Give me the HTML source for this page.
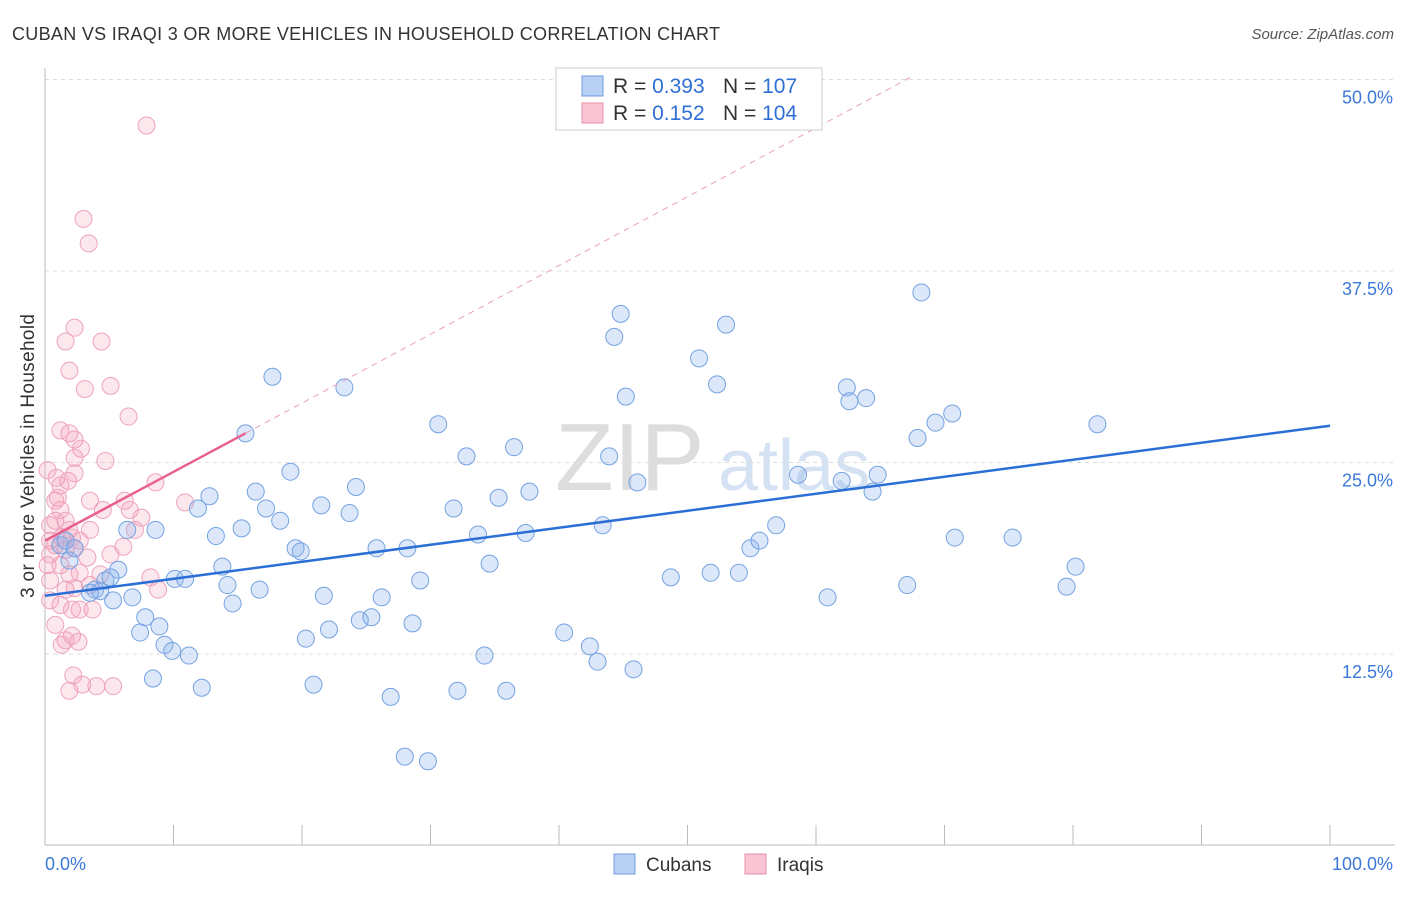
<!DOCTYPE html>
<html><head><meta charset="utf-8"><style>
body{margin:0;background:#fff;font-family:"Liberation Sans",sans-serif;}
svg text{font-family:"Liberation Sans",sans-serif;}
</style></head><body>
<svg id="chart" width="1406" height="892" viewBox="0 0 1406 892">
<text x="12" y="40" font-size="18" fill="#333" textLength="708">CUBAN VS IRAQI 3 OR MORE VEHICLES IN HOUSEHOLD CORRELATION CHART</text>
<text x="1394" y="39" font-size="15" fill="#555" font-style="italic" text-anchor="end">Source: ZipAtlas.com</text>
<text x="0" y="0" transform="translate(34,456) rotate(-90)" font-size="19" fill="#333" text-anchor="middle" textLength="284">3 or more Vehicles in Household</text>
<text x="555" y="490" font-size="96" fill="#ddd" font-family="Liberation Serif">ZIP</text>
<text x="718" y="490" font-size="72" fill="#d4e2f4">atlas</text>
<g id="grid"></g><g id="axes"></g><g id="pts"></g><g id="trends"></g>
<g>
<rect x="556" y="68" width="266" height="62" fill="#fff" stroke="#ccc"/>
<rect x="582" y="76" width="21" height="20" fill="#b8d0f4" stroke="#6b9ce0"/>
<rect x="582" y="103" width="21" height="20" fill="#f9c5d4" stroke="#ea8fab"/>
<text x="613" y="93" font-size="21" fill="#333">R = <tspan fill="#2f6fd6">0.393</tspan></text>
<text x="723" y="93" font-size="21" fill="#333">N = <tspan fill="#2f6fd6">107</tspan></text>
<text x="613" y="120" font-size="21" fill="#333">R =  <tspan fill="#2f6fd6">0.152</tspan></text>
<text x="723" y="120" font-size="21" fill="#333">N = <tspan fill="#2f6fd6">104</tspan></text>
</g>
<g>
<rect x="614" y="854" width="21" height="20" fill="#b8d0f4" stroke="#6b9ce0"/>
<text x="646" y="871" font-size="19" fill="#333">Cubans</text>
<rect x="745" y="854" width="21" height="20" fill="#f9c5d4" stroke="#ea8fab"/>
<text x="777" y="871" font-size="19" fill="#333">Iraqis</text>
</g>
</svg>
<script>
const yTicks=[12.5,25,37.5,50];
const yTickLabels=["12.5%","25.0%","37.5%","50.0%"];
const xTicks=[0,10,20,30,40,50,60,70,80,90,100];
const cubanX=[15.6,17.7,23.3,30.6,32.8,36.5,44.8,44.3,45.2,50.9,52.3,53.0,68.2,62.4,62.6,63.9,70.6,69.3,67.9,81.9,43.9,46.1,37.7,35.3,31.8,24.2,23.7,21.5,19.1,16.4,17.2,18.3,12.8,11.9,13.3,15.3,8.6,6.4,4.7,5.7,3.9,4.3,5.3,6.8,7.8,8.9,9.3,9.9,11.2,7.4,10.1,10.9,13.8,14.2,14.6,16.7,19.5,19.9,21.7,20.3,22.1,24.5,25.4,26.2,25.8,28.2,29.2,28.6,33.7,34.6,37.4,43.4,48.7,51.8,54.0,54.9,55.6,56.9,58.6,62.0,64.4,64.8,60.9,67.1,70.8,75.3,80.2,79.5,40.4,42.4,43.0,45.8,34.2,32.1,35.9,26.9,28.0,29.8,20.9,12.2,8.4,5.1,3.5,1.9,1.2,1.6,2.3];
const cubanY=[26.9,30.6,29.9,27.5,25.4,26.0,34.7,33.2,29.3,31.8,30.1,34.0,36.1,29.9,29.0,29.2,28.2,27.6,26.6,27.5,25.4,23.7,23.1,22.7,22.0,23.4,21.7,22.2,24.4,23.1,22.0,21.2,22.8,22.0,20.2,20.7,20.6,20.6,17.3,18.0,16.7,16.6,16.0,16.2,14.9,14.3,13.1,12.7,12.4,13.9,17.4,17.4,18.2,17.0,15.8,16.7,19.4,19.2,16.3,13.5,14.1,14.7,14.9,16.2,19.4,19.4,17.3,14.5,20.3,18.4,20.4,20.9,17.5,17.8,17.8,19.4,19.9,20.9,24.2,23.8,23.1,24.2,16.2,17.0,20.1,20.1,18.2,16.9,13.9,13.0,12.0,11.5,12.4,10.1,10.1,9.7,5.8,5.5,10.5,10.3,10.9,17.5,16.5,18.6,19.6,19.9,19.4];
const iraqiX=[7.9,3.0,3.4,2.3,1.6,4.4,1.9,3.1,5.1,6.5,1.2,1.9,2.3,2.8,4.7,2.3,2.3,1.8,1.2,0.9,3.5,4.5,6.6,0.8,1.2,1.6,0.4,1.9,3.5,7.0,1.3,2.1,2.7,0.8,1.6,2.3,6.1,0.4,3.3,5.1,1.2,1.9,2.7,4.3,0.4,1.6,2.3,3.5,8.2,8.8,0.4,1.2,2.1,3.7,2.7,0.8,1.6,2.1,2.6,1.3,2.2,1.9,2.9,4.0,5.3,10.9,8.6,6.2,7.5,0.2,0.4,0.8,1.0,0.2];
const iraqiY=[47.0,40.9,39.3,33.8,32.9,32.9,31.0,29.8,30.0,28.0,27.1,26.9,26.5,25.9,25.1,25.3,24.3,23.8,23.5,24.0,22.5,21.9,21.9,22.5,21.9,21.2,20.9,20.6,20.6,20.6,20.1,20.1,19.9,19.6,19.3,19.4,19.5,19.0,18.8,19.0,18.3,17.7,17.8,17.7,17.3,16.7,16.8,17.0,17.5,16.7,16.0,15.7,15.4,15.4,15.4,14.4,13.4,13.7,13.3,13.1,11.1,10.1,10.5,10.4,10.4,22.4,23.7,22.5,21.4,18.3,19.9,21.2,22.7,24.5];
const cubanTrend=[16.3,27.4];
const iraqiTrend=[19.9,0.449];
const iraqiMaxX=15.6;

const NS="http://www.w3.org/2000/svg";
const X=v=>45+v*12.85, Y=v=>845.5-v*15.32;
function mk(parent,tag,attrs){const e=document.createElementNS(NS,tag);for(const k in attrs)e.setAttribute(k,attrs[k]);document.getElementById(parent).appendChild(e);return e;}
yTicks.forEach((t,i)=>{
 const l=mk('grid','line',{x1:45,x2:1395,y1:Y(t),y2:Y(t),stroke:'#ddd','stroke-dasharray':'4,4'});
 
 
 const tx=mk('grid','text',{x:1393,y:Y(t)+24,'font-size':18,fill:'#3b78d8','text-anchor':'end'});tx.textContent=yTickLabels[i];
 
 
});
let a=mk('axes','line',{x1:45,x2:45,y1:68,y2:845,stroke:'#bbb'});


a=mk('axes','line',{x1:45,x2:1395,y1:845,y2:845,stroke:'#bbb'});


xTicks.forEach(t=>{const l=mk('axes','line',{x1:X(t),x2:X(t),y1:825,y2:845,stroke:'#bbb'});
 
 });
let t0=mk('axes','text',{x:45,y:870,'font-size':18,fill:'#3b78d8'});t0.textContent='0.0%';


let t1=mk('axes','text',{x:1393,y:870,'font-size':18,fill:'#3b78d8','text-anchor':'end'});t1.textContent='100.0%';


iraqiX.forEach((x,i)=>{const c=mk('pts','circle',{cx:X(x),cy:Y(iraqiY[i]),r:8.5,fill:'rgba(245,160,185,0.25)',stroke:'#eea3bb','stroke-width':1});
 
 });
cubanX.forEach((x,i)=>{const c=mk('pts','circle',{cx:X(x),cy:Y(cubanY[i]),r:8.5,fill:'rgba(140,180,235,0.3)',stroke:'#74a2e2','stroke-width':1});
 
 });
let l=mk('trends','line',{x1:X(0),y1:Y(cubanTrend[0]),x2:X(100),y2:Y(cubanTrend[1]),stroke:'#2b6fd6','stroke-width':2.5});


const xEnd=(50.2-iraqiTrend[0])/iraqiTrend[1];
l=mk('trends','line',{x1:X(iraqiMaxX),y1:Y(iraqiTrend[0]+iraqiTrend[1]*iraqiMaxX),x2:X(xEnd),y2:Y(50.2),stroke:'#eaa0b8','stroke-width':1,'stroke-dasharray':'6,5'});


l=mk('trends','line',{x1:X(0),y1:Y(iraqiTrend[0]),x2:X(iraqiMaxX),y2:Y(iraqiTrend[0]+iraqiTrend[1]*iraqiMaxX),stroke:'#e8608c','stroke-width':2.5});


</script>
</body></html>
